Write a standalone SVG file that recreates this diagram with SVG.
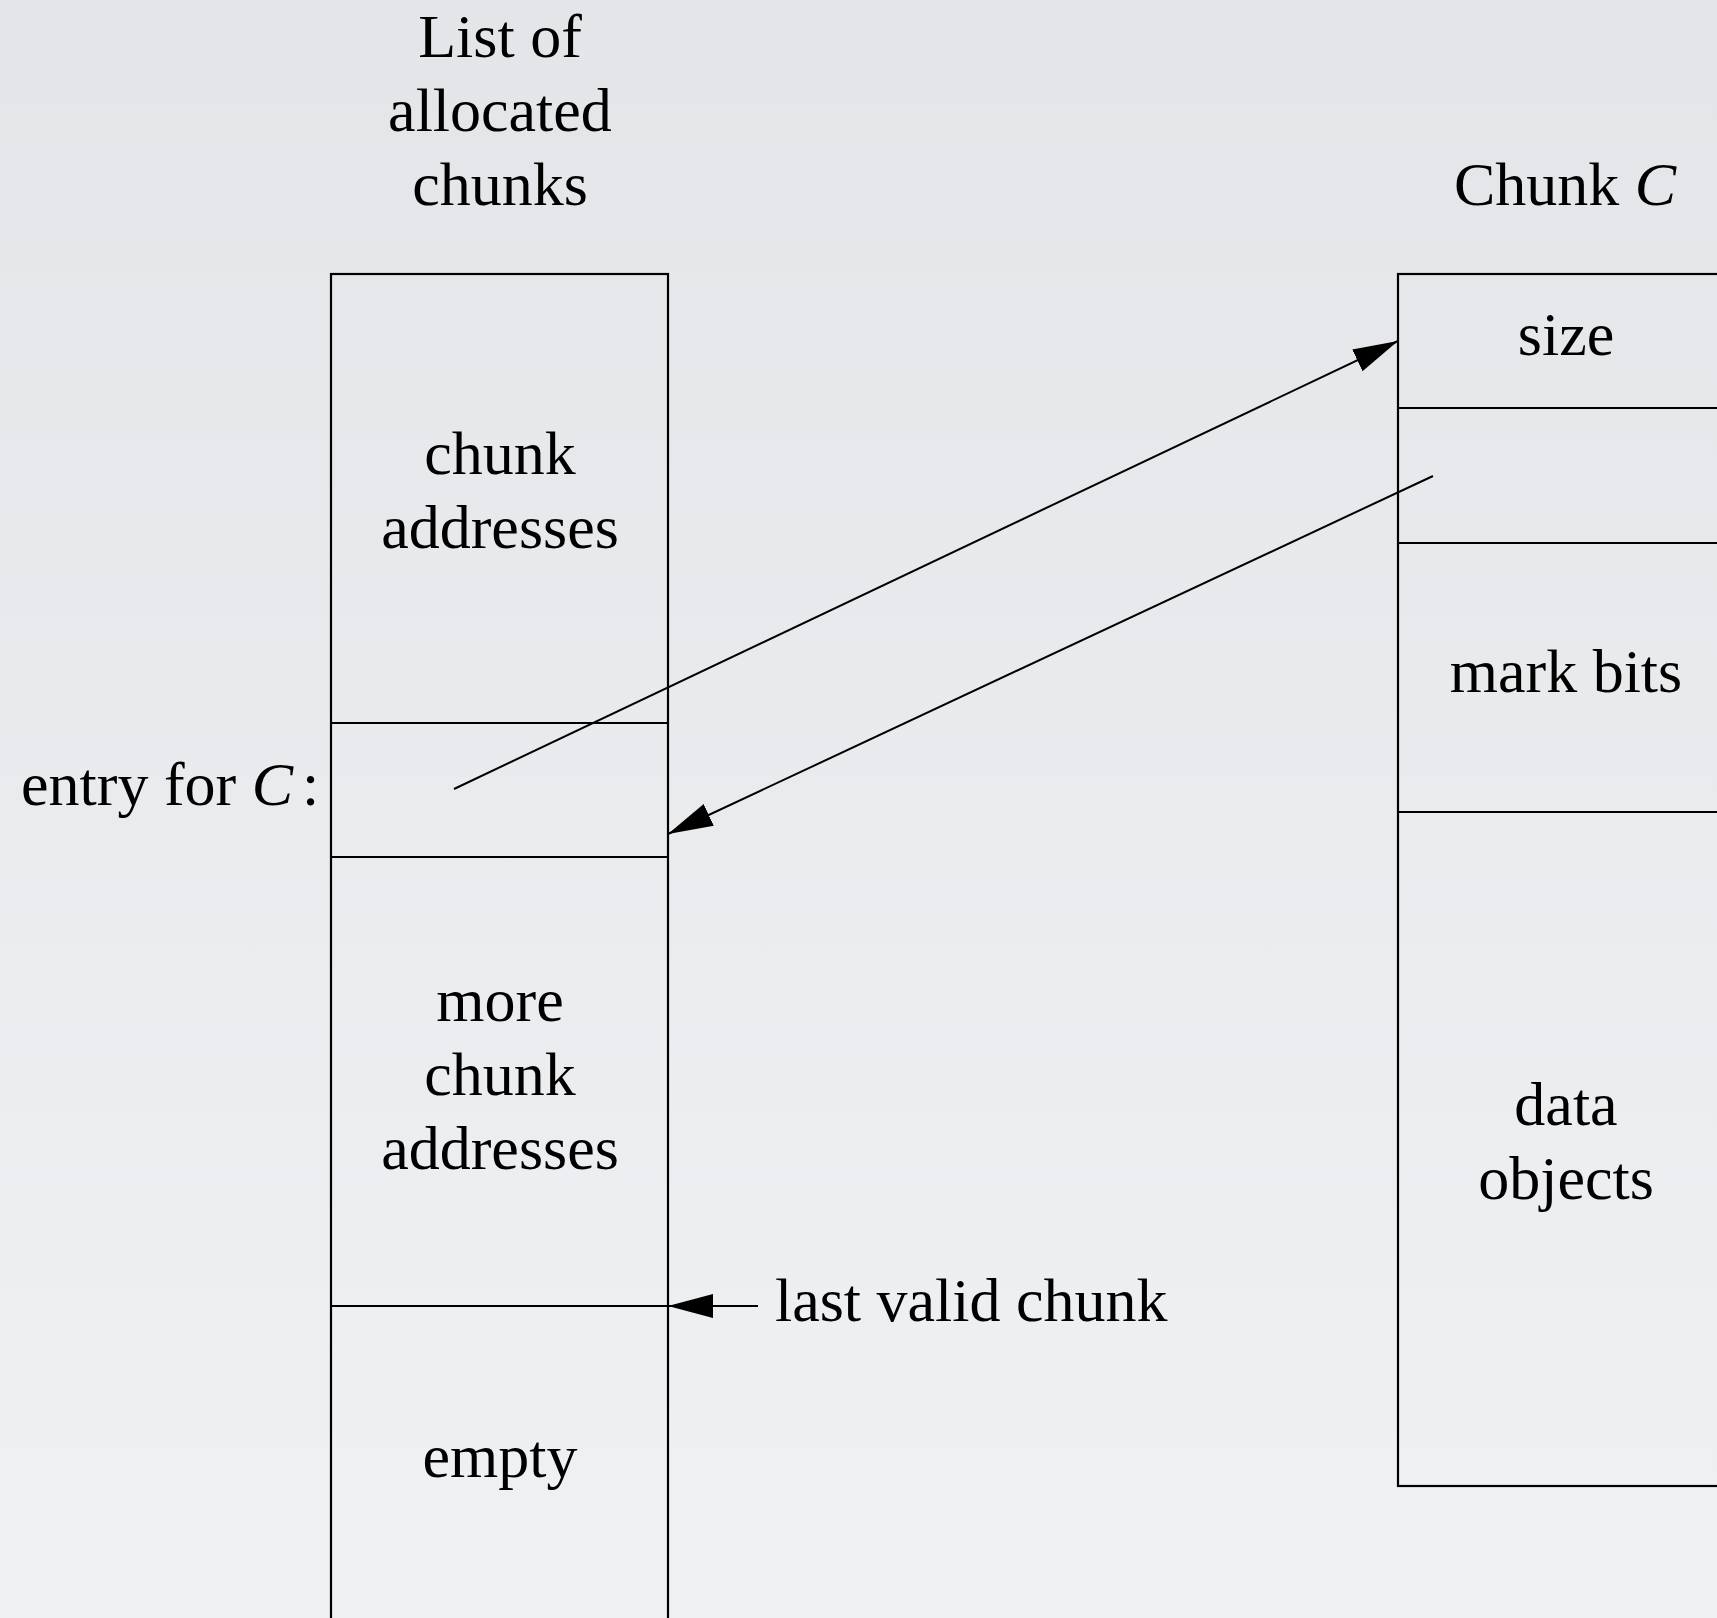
<svg xmlns="http://www.w3.org/2000/svg" width="1717" height="1618" viewBox="0 0 1717 1618">
  <defs>
    <linearGradient id="bg" x1="0" y1="0" x2="0" y2="1">
      <stop offset="0" stop-color="#e3e5e8"/>
      <stop offset="1" stop-color="#eff1f3"/>
    </linearGradient>
    <marker id="head" markerUnits="userSpaceOnUse" markerWidth="48" markerHeight="26" refX="45" refY="12" orient="auto">
      <path d="M0,0 L45,12 L0,24 Z" fill="#000"/>
    </marker>
    <style>
      .box { fill: none; stroke: #000; stroke-width: 2.2; }
      .div { stroke: #000; stroke-width: 2.2; }
      .lbl { font-family: "Liberation Serif", "Times New Roman", serif; font-size: 62px; fill: #000; }
      .mid { text-anchor: middle; }
      .conn { stroke: #000; stroke-width: 2; fill: none; marker-end: url(#head); }
    </style>
  </defs>

  <rect width="1717" height="1618" fill="url(#bg)"/>

  <!-- list of allocated chunks -->
  <g id="chunk-list">
    <text class="lbl mid" x="500" y="57">List of</text>
    <text class="lbl mid" x="500" y="131">allocated</text>
    <text class="lbl mid" x="500" y="205">chunks</text>
    <rect class="box" x="331" y="274" width="337" height="1400"/>
    <line class="div" x1="331" y1="723" x2="668" y2="723"/>
    <line class="div" x1="331" y1="857" x2="668" y2="857"/>
    <line class="div" x1="331" y1="1306" x2="668" y2="1306"/>
    <text class="lbl mid" x="500" y="474">chunk</text>
    <text class="lbl mid" x="500" y="548">addresses</text>
    <text class="lbl" x="21" y="805">entry for <tspan font-style="italic">C</tspan><tspan dx="9">:</tspan></text>
    <text class="lbl mid" x="500" y="1021">more</text>
    <text class="lbl mid" x="500" y="1095">chunk</text>
    <text class="lbl mid" x="500" y="1169">addresses</text>
    <text class="lbl" x="775" y="1321">last valid chunk</text>
    <text class="lbl mid" x="500" y="1477">empty</text>
  </g>

  <!-- chunk C -->
  <g id="chunk-c">
    <text class="lbl mid" x="1565" y="205">Chunk <tspan font-style="italic">C</tspan></text>
    <rect class="box" x="1398" y="274" width="337" height="1212"/>
    <line class="div" x1="1398" y1="408" x2="1735" y2="408"/>
    <line class="div" x1="1398" y1="543" x2="1735" y2="543"/>
    <line class="div" x1="1398" y1="812" x2="1735" y2="812"/>
    <text class="lbl mid" x="1566" y="355">size</text>
    <text class="lbl mid" x="1566" y="692">mark bits</text>
    <text class="lbl mid" x="1566" y="1125">data</text>
    <text class="lbl mid" x="1566" y="1199">objects</text>
  </g>

  <!-- pointers -->
  <g id="connectors">
    <line class="conn" x1="454" y1="789" x2="1398" y2="341"/>
    <line class="conn" x1="1433" y1="476" x2="668" y2="834"/>
    <line class="conn" x1="758" y1="1306" x2="668" y2="1306"/>
  </g>
</svg>
